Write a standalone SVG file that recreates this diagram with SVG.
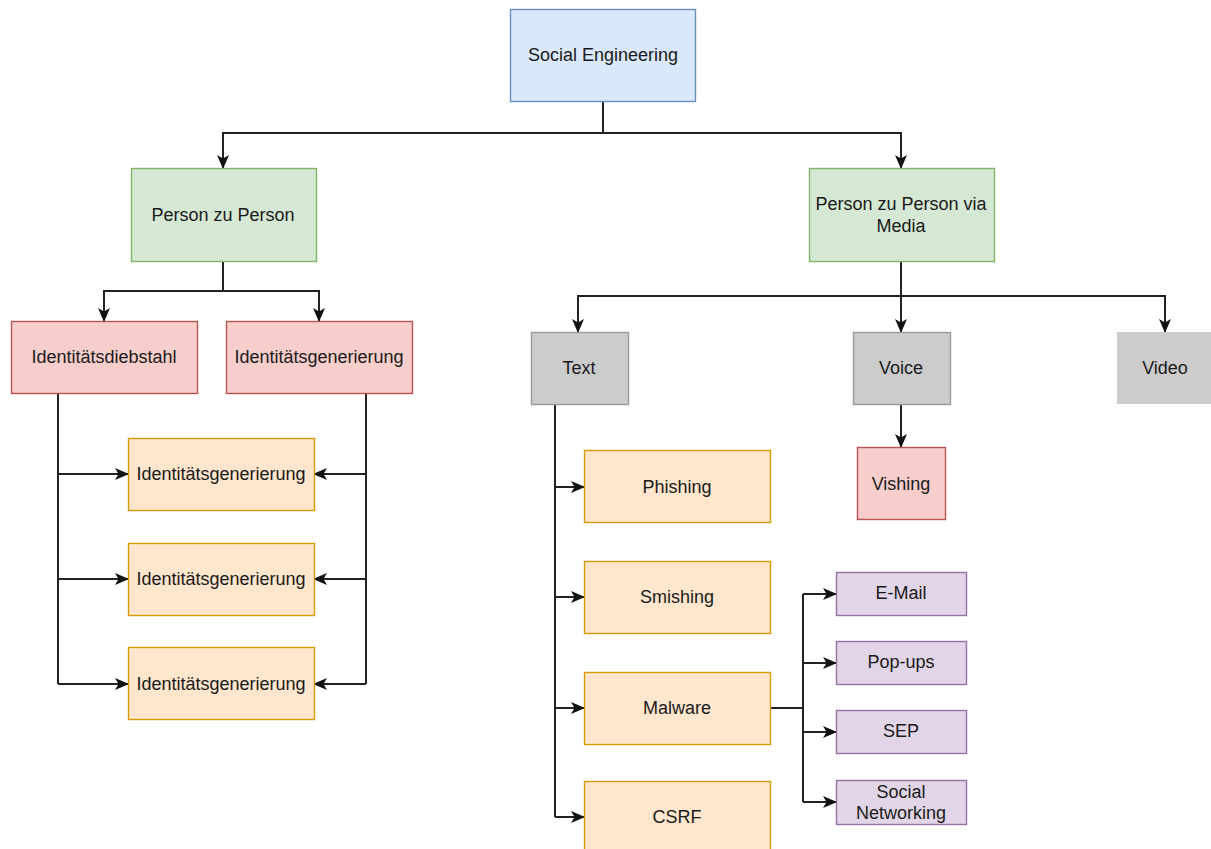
<svg xmlns="http://www.w3.org/2000/svg" width="1211" height="849" viewBox="0 0 1211 849">
  <style>
    text { font-family: "Liberation Sans", Arial, sans-serif; font-size: 18px; fill: #1a1a1a; text-anchor: middle; dominant-baseline: central; }
    .blue { fill: #dae8fc; stroke: #6c8ebf; stroke-width: 1.4; }
    .green { fill: #d5e8d4; stroke: #82b366; stroke-width: 1.4; }
    .red { fill: #f8cecc; stroke: #b85450; stroke-width: 1.4; }
    .gray { fill: #cccccc; stroke: #999999; stroke-width: 1.4; }
    .gray0 { fill: #cccccc; stroke: none; }
    .orange { fill: #ffe6cc; stroke: #d79b00; stroke-width: 1.4; }
    .purple { fill: #e1d5e7; stroke: #9673a6; stroke-width: 1.4; }
    .edge { fill: none; stroke: #222222; stroke-width: 2; }
    .arr { marker-end: url(#arrow); }
  </style>
  <defs>
    <marker id="arrow" viewBox="0 0 14 12" refX="13" refY="6" markerWidth="14" markerHeight="12" markerUnits="userSpaceOnUse" orient="auto">
      <path d="M0,0 L14,6 L0,12 L3.5,6 Z" fill="#111111"/>
    </marker>
  </defs>

  <rect width="1211" height="849" fill="#ffffff"/>

  <g id="connectors">
    <!-- root to level 1 -->
    <path class="edge" d="M603,101 V133"/>
    <path class="edge arr" d="M603,133 H223 V168"/>
    <path class="edge arr" d="M603,133 H901 V168"/>
    <!-- Person zu Person -->
    <path class="edge" d="M223,261 V291"/>
    <path class="edge arr" d="M223,291 H104 V321"/>
    <path class="edge arr" d="M223,291 H319 V321"/>
    <!-- left fan -->
    <path class="edge" d="M58,393 V684"/>
    <path class="edge arr" d="M58,474 H128"/>
    <path class="edge arr" d="M58,579 H128"/>
    <path class="edge arr" d="M58,684 H128"/>
    <!-- right fan -->
    <path class="edge" d="M366,393 V684"/>
    <path class="edge arr" d="M366,474 H314"/>
    <path class="edge arr" d="M366,579 H314"/>
    <path class="edge arr" d="M366,684 H314"/>
    <!-- via Media -->
    <path class="edge arr" d="M901,261 V332"/>
    <path class="edge arr" d="M901,296 H578 V332"/>
    <path class="edge arr" d="M901,296 H1165 V332"/>
    <path class="edge arr" d="M901,404 V447"/>
    <!-- Text column -->
    <path class="edge" d="M555,404 V817"/>
    <path class="edge arr" d="M555,487 H584"/>
    <path class="edge arr" d="M555,597 H584"/>
    <path class="edge arr" d="M555,708 H584"/>
    <path class="edge arr" d="M555,817 H584"/>
    <!-- Malware fan -->
    <path class="edge" d="M771,708 H803"/>
    <path class="edge" d="M803,594 V802"/>
    <path class="edge arr" d="M803,594 H836"/>
    <path class="edge arr" d="M803,663 H836"/>
    <path class="edge arr" d="M803,732 H836"/>
    <path class="edge arr" d="M803,802 H836"/>
  </g>

  <g id="social-engineering">
    <rect class="blue" x="510.5" y="9.5" width="185" height="92"/>
    <text x="603" y="55">Social Engineering</text>
  </g>
  <g id="person-zu-person">
    <rect class="green" x="131.5" y="168.5" width="185" height="93"/>
    <text x="223" y="215">Person zu Person</text>
  </g>
  <g id="person-via-media">
    <rect class="green" x="809.5" y="168.5" width="185" height="93"/>
    <text x="901" y="204">Person zu Person via</text>
    <text x="901" y="226">Media</text>
  </g>
  <g id="identitaetsdiebstahl">
    <rect class="red" x="11.5" y="321.5" width="186" height="72"/>
    <text x="104" y="357">Identitätsdiebstahl</text>
  </g>
  <g id="identitaetsgenerierung-main">
    <rect class="red" x="226.5" y="321.5" width="186" height="72"/>
    <text x="319" y="357">Identitätsgenerierung</text>
  </g>
  <g id="identitaetsgenerierung-1">
    <rect class="orange" x="128.5" y="438.5" width="186" height="72"/>
    <text x="221" y="474">Identitätsgenerierung</text>
  </g>
  <g id="identitaetsgenerierung-2">
    <rect class="orange" x="128.5" y="543.5" width="186" height="72"/>
    <text x="221" y="579">Identitätsgenerierung</text>
  </g>
  <g id="identitaetsgenerierung-3">
    <rect class="orange" x="128.5" y="647.5" width="186" height="72"/>
    <text x="221" y="684">Identitätsgenerierung</text>
  </g>
  <g id="text">
    <rect class="gray" x="531.5" y="332.5" width="97" height="72"/>
    <text x="579" y="368">Text</text>
  </g>
  <g id="voice">
    <rect class="gray" x="853.5" y="332.5" width="97" height="72"/>
    <text x="901" y="368">Voice</text>
  </g>
  <g id="video">
    <rect class="gray0" x="1117" y="332" width="97" height="72"/>
    <text x="1165" y="368">Video</text>
  </g>
  <g id="vishing">
    <rect class="red" x="857.5" y="447.5" width="88" height="72"/>
    <text x="901" y="484">Vishing</text>
  </g>
  <g id="phishing">
    <rect class="orange" x="584.5" y="450.5" width="186" height="72"/>
    <text x="677" y="487">Phishing</text>
  </g>
  <g id="smishing">
    <rect class="orange" x="584.5" y="561.5" width="186" height="72"/>
    <text x="677" y="597">Smishing</text>
  </g>
  <g id="malware">
    <rect class="orange" x="584.5" y="672.5" width="186" height="72"/>
    <text x="677" y="708">Malware</text>
  </g>
  <g id="csrf">
    <rect class="orange" x="584.5" y="781.5" width="186" height="72"/>
    <text x="677" y="817">CSRF</text>
  </g>
  <g id="email">
    <rect class="purple" x="836.5" y="572.5" width="130" height="43"/>
    <text x="901" y="593">E-Mail</text>
  </g>
  <g id="popups">
    <rect class="purple" x="836.5" y="641.5" width="130" height="43"/>
    <text x="901" y="662">Pop-ups</text>
  </g>
  <g id="sep">
    <rect class="purple" x="836.5" y="710.5" width="130" height="43"/>
    <text x="901" y="731">SEP</text>
  </g>
  <g id="social-networking">
    <rect class="purple" x="836.5" y="780.5" width="130" height="44"/>
    <text x="901" y="792">Social</text>
    <text x="901" y="813">Networking</text>
  </g>
</svg>
